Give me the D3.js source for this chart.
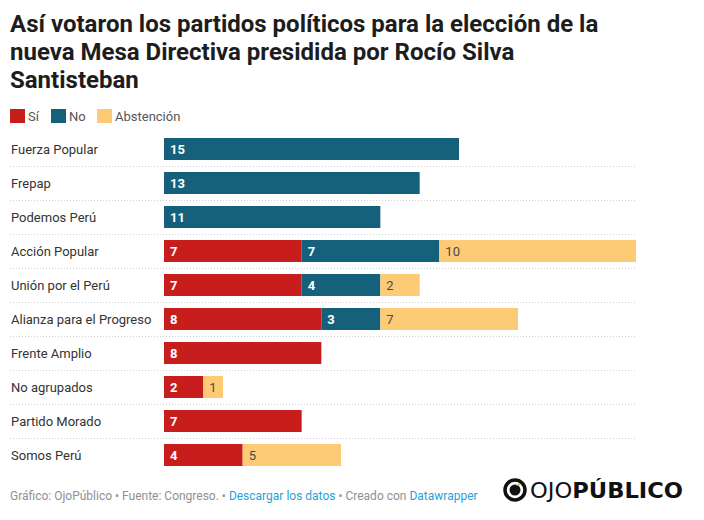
<!DOCTYPE html>
<html>
<head>
<meta charset="utf-8">
<script src="https://cdn.jsdelivr.net/npm/d3@7"></script>
<style>
  body { margin: 0; background: #fff; }
  svg { display: block; font-family: Roboto, sans-serif; }
</style>
</head>
<body>
<div id="chart"></div>
<script>
// data
var parties = ["Fuerza Popular", "Frepap", "Podemos Perú", "Acción Popular", "Unión por el Perú",
  "Alianza para el Progreso", "Frente Amplio", "No agrupados", "Partido Morado", "Somos Perú"];
var si         = [0, 0, 0, 7, 7, 8, 8, 2, 7, 4];
var no         = [15, 13, 11, 7, 4, 3, 0, 0, 0, 0];
var abstencion = [0, 0, 0, 10, 2, 7, 0, 1, 0, 5];

var seriesNames = ["Sí", "No", "Abstención"];
var colors = ["#c71e1d", "#15607a", "#fdca76"];
var titleLines = ["Así votaron los partidos políticos para la elección de la",
  "nueva Mesa Directiva presidida por Rocío Silva", "Santisteban"];

var W = 704, H = 520;
var svg = d3.select("#chart").append("svg").attr("width", W).attr("height", H);

// title
svg.append("g").selectAll("text")
  .data(titleLines)
  .enter().append("text")
    .attr("x", 10)
    .attr("y", function (d, i) { return 32 + i * 28; })
    .style("font-size", "24px")
    .style("font-weight", "bold")
    .style("fill", "#1d1d1d")
    .text(function (d) { return d; });

// legend
var legX = [10, 51, 97];
var leg = svg.append("g").selectAll("g")
  .data(seriesNames)
  .enter().append("g")
    .attr("transform", function (d, i) { return "translate(" + legX[i] + ",109)"; });
leg.append("rect").attr("width", 15).attr("height", 14)
  .style("fill", function (d, i) { return colors[i]; });
leg.append("text").attr("x", 18).attr("y", 11.5)
  .style("font-size", "13px").style("fill", "#555")
  .text(function (d) { return d; });

// scales
var x = d3.scaleLinear().domain([0, 24]).range([164, 636]);
var y = d3.scaleBand().domain(parties).range([138, 466]).paddingInner(12 / 34).paddingOuter(0);

var rows = parties.map(function (p, i) {
  return { party: p, "Sí": si[i], "No": no[i], "Abstención": abstencion[i] };
});
var stacked = d3.stack().keys(seriesNames)(rows);

// separators
svg.append("g").selectAll("line")
  .data(parties.slice(0, -1))
  .enter().append("line")
    .attr("x1", 10).attr("x2", 636)
    .attr("y1", function (d) { return y(d) + y.bandwidth() + 6.5; })
    .attr("y2", function (d) { return y(d) + y.bandwidth() + 6.5; })
    .style("stroke", "#d0d0d0")
    .style("stroke-dasharray", "1,2");

// row labels
svg.append("g").selectAll("text")
  .data(parties)
  .enter().append("text")
    .attr("x", 11)
    .attr("y", function (d) { return y(d) + y.bandwidth() / 2; })
    .attr("dy", "0.35em")
    .style("font-size", "13px")
    .style("fill", "#333")
    .text(function (d) { return d; });

// bars
var layer = svg.append("g").selectAll("g")
  .data(stacked)
  .enter().append("g")
    .style("fill", function (d, i) { return colors[i]; });

layer.selectAll("rect")
  .data(function (d) { return d.filter(function (s) { return s[1] > s[0]; }); })
  .enter().append("rect")
    .attr("x", function (d) { return x(d[0]); })
    .attr("y", function (d) { return y(d.data.party); })
    .attr("width", function (d) { return x(d[1]) - x(d[0]); })
    .attr("height", y.bandwidth());

layer.selectAll("text")
  .data(function (d) {
    var k = d.key;
    return d.filter(function (s) { return s[1] > s[0]; }).map(function (s) { s.key = k; return s; });
  })
  .enter().append("text")
    .attr("x", function (d) { return x(d[0]) + 6; })
    .attr("y", function (d) { return y(d.data.party) + y.bandwidth() / 2; })
    .attr("dy", "0.36em")
    .style("font-size", "13px")
    .style("font-weight", function (d) { return d.key === "Abstención" ? "normal" : "bold"; })
    .style("fill", function (d) { return d.key === "Abstención" ? "#4a4a4a" : "#fff"; })
    .text(function (d) { return d[1] - d[0]; });

// footer
var foot = svg.append("text").attr("x", 10).attr("y", 500)
  .style("font-size", "12px").style("fill", "#909090");
foot.append("tspan").text("Gráfico: OjoPúblico • Fuente: Congreso. • ");
foot.append("tspan").style("fill", "#2a9fd6").text("Descargar los datos");
foot.append("tspan").text(" • Creado con ");
foot.append("tspan").style("fill", "#2a9fd6").text("Datawrapper");

// logo
var logo = svg.append("g").attr("transform", "translate(515,490)");
logo.append("circle").attr("r", 10).style("fill", "none").style("stroke", "#111").style("stroke-width", 3.5);
logo.append("circle").attr("r", 5.5).style("fill", "#111");
logo.append("path").attr("d", "M1,-4 L4,-7 L5,-5 Z").style("fill", "#f4a81d");
var lt = svg.append("text").attr("x", 530).attr("y", 498)
  .attr("textLength", 153).attr("lengthAdjust", "spacingAndGlyphs")
  .style("font-family", "'DejaVu Sans', sans-serif").style("font-size", "22px").style("fill", "#111");
lt.append("tspan").style("font-weight", "normal").text("OJO");
lt.append("tspan").style("font-weight", "bold").text("PÚBLICO");
</script>
</body>
</html>
